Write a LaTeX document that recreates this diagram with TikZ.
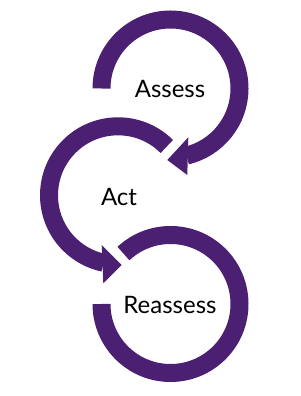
\documentclass[tikz,border=0pt]{standalone}
\usepackage{fontspec}
\setmainfont{Lato}
\definecolor{cyclepurple}{RGB}{75,32,114}
\tikzset{
  ring/.style={draw=cyclepurple, line width=18pt, line cap=butt},
  head/.style={fill=cyclepurple, draw=none},
  lbl/.style={font=\fontsize{24}{28}\selectfont, text=black, inner sep=0pt}
}
\begin{document}
\begin{tikzpicture}[x=1pt,y=1pt]
\useasboundingbox (0,0) rectangle (300,396);
\coordinate (T) at (170.5,307.5);
\coordinate (M) at (118,200.7);
\coordinate (B) at (170.5,92);
% top ring: from 180 clockwise to arrow
\draw[ring] (T) ++(180:69) arc[start angle=180, end angle=-76.5, radius=69];
\fill[head] (188.3,258.7) -- (167.3,236) -- (187.3,221) -- cycle;
% middle ring: from 45 counterclockwise to arrow
\draw[ring] (M) ++(45:69) arc[start angle=45, end angle=258, radius=69];
\fill[head] (101.7,151) -- (121.7,131) -- (103.3,112.7) -- cycle;
% bottom ring: from 133 clockwise to 180
\draw[ring] (B) ++(133:69) arc[start angle=133, end angle=-180, radius=69];
\node[lbl] (assess) at (170,307.3) {Assess};
\node[lbl] (act) at (119,199.3) {Act};
\node[lbl] (reassess) at (170,91.3) {Reassess};
\end{tikzpicture}
\end{document}
